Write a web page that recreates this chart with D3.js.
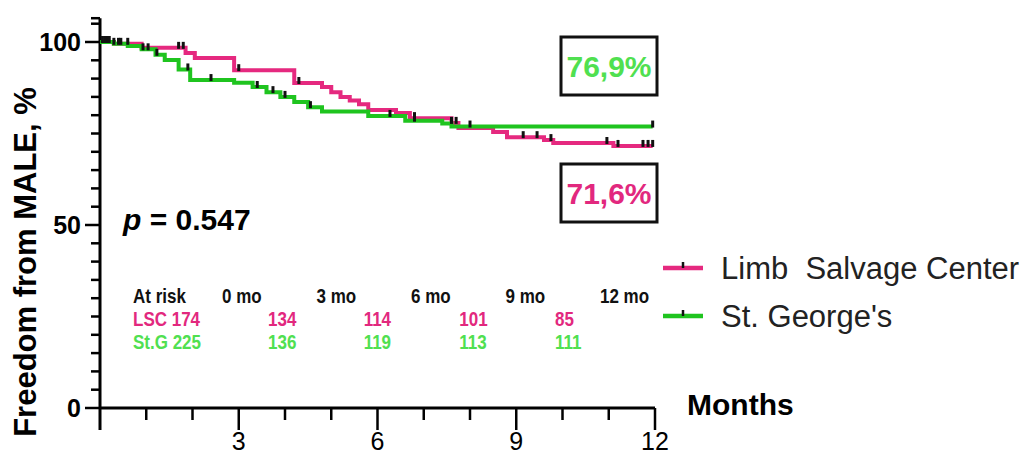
<!DOCTYPE html>
<html>
<head>
<meta charset="utf-8">
<script src="https://cdn.jsdelivr.net/npm/d3@7"></script>
<style>
  body { margin: 0; background: #fff; }
  svg { display: block; }
  text { font-family: "Liberation Sans", Arial, sans-serif; }
</style>
</head>
<body>
<div id="chart"></div>
<script>
// Kaplan-Meier steps (months, % free from MALE)
var lscTimes = [0, 0.3, 0.9, 1.85, 2.05, 2.9, 4.2, 4.8, 5.0, 5.2, 5.4, 5.6, 5.8, 6.4, 6.7, 7.6, 7.75, 8.5, 8.8, 9.6, 9.8, 11.1, 11.95];
var lscSurv  = [100, 99.5, 98.4, 97.0, 95.6, 92.3, 88.8, 87.7, 86.3, 85.0, 84.0, 83.0, 81.4, 80.6, 79.2, 77.9, 76.5, 75.4, 74.0, 73.2, 72.4, 71.6, 71.6];
var lscCensor = [0.05, 0.15, 0.3, 0.45, 0.6, 1.7, 1.8, 3.0, 4.3, 6.8, 7.6, 7.7, 9.15, 9.45, 9.75, 10.96, 11.2, 11.74, 11.85, 11.95];

var stgTimes = [0, 0.3, 0.6, 0.9, 1.2, 1.4, 1.7, 1.95, 2.9, 3.3, 3.6, 3.9, 4.2, 4.5, 4.8, 5.8, 6.6, 7.4, 7.6, 11.95];
var stgSurv  = [100, 99.5, 98.9, 98.0, 96.5, 95.1, 92.5, 89.6, 88.9, 87.7, 86.3, 85.0, 83.6, 82.2, 81.0, 79.8, 78.5, 77.7, 76.9, 76.9];
var stgCensor = [0.1, 0.2, 0.4, 0.93, 1.04, 1.23, 1.9, 2.4, 3.4, 3.74, 4.0, 4.55, 6.27, 6.8, 8.0, 11.95];

var seriesNames = ["Limb  Salvage Center", "St. George's"];
var endLabels = ["71,6%", "76,9%"];
var xTicks = [3, 6, 9, 12];
var yTicks = [0, 50, 100];
var riskHeader = ["0 mo", "3 mo", "6 mo", "9 mo", "12 mo"];
var riskLSC = [134, 114, 101, 85];
var riskStG = [136, 119, 113, 111];
var riskRowNames = ["LSC 174", "St.G 225"];

var pink = "#e5297f", green = "#1fc41f";
var pinkText = "#e2287e", greenText = "#50e050";

var svg = d3.select("#chart").append("svg")
    .attr("width", 1024).attr("height", 455);

var x = d3.scaleLinear().domain([0, 12]).range([100, 655]);
var y = d3.scaleLinear().domain([0, 100]).range([408, 42]);

// y axis
var yAxis = svg.append("g").attr("transform", "translate(" + x(0) + ",0)");
yAxis.append("line").attr("y1", y(0) + 22).attr("y2", y(106.5))
    .attr("stroke", "#000").attr("stroke-width", 3);
yAxis.selectAll(".minor").data(d3.range(0, 106, 5).concat([106.5])).enter().append("line")
    .attr("x1", function(d) { return yTicks.indexOf(d) >= 0 ? -15 : -9; }).attr("x2", 0)
    .attr("y1", function(d) { return y(d); }).attr("y2", function(d) { return y(d); })
    .attr("stroke", "#000").attr("stroke-width", 2.5);
yAxis.selectAll(".lab").data(yTicks).enter().append("text")
    .attr("x", -19).attr("y", function(d) { return y(d); }).attr("dy", "0.35em")
    .attr("text-anchor", "end").attr("font-size", 25).attr("font-weight", "bold")
    .text(function(d) { return d; });

// x axis
var xAxis = svg.append("g").attr("transform", "translate(0," + y(0) + ")");
xAxis.append("line").attr("x1", x(0)).attr("x2", x(12))
    .attr("stroke", "#000").attr("stroke-width", 3);
xAxis.selectAll(".t").data(d3.range(1, 13)).enter().append("line")
    .attr("x1", function(d) { return x(d); }).attr("x2", function(d) { return x(d); })
    .attr("y1", 0).attr("y2", function(d) { return d % 3 === 0 ? 22 : 12; })
    .attr("stroke", "#000").attr("stroke-width", 2.5);
xAxis.selectAll(".lab").data(xTicks).enter().append("text")
    .attr("x", function(d) { return x(d); }).attr("y", 42)
    .attr("text-anchor", "middle").attr("font-size", 25)
    .text(function(d) { return d; });

svg.append("text").attr("transform", "translate(36,262) rotate(-90)")
    .attr("text-anchor", "middle").attr("font-size", 31).attr("font-weight", "bold")
    .text("Freedom from MALE, %");

svg.append("text").attr("x", 687).attr("y", 415)
    .attr("font-size", 30).attr("font-weight", "bold").text("Months");

// KM curves
function stepAt(times, surv, t) {
  var i = d3.bisectRight(times, t) - 1;
  return surv[Math.max(0, i)];
}
var line = d3.line().curve(d3.curveStepAfter)
    .x(function(d) { return x(d[0]); }).y(function(d) { return y(d[1]); });

var curves = [
  { times: lscTimes, surv: lscSurv, cens: lscCensor, color: pink },
  { times: stgTimes, surv: stgSurv, cens: stgCensor, color: green }
];
curves.forEach(function(c) {
  svg.append("path").datum(d3.zip(c.times, c.surv))
      .attr("fill", "none").attr("stroke", c.color).attr("stroke-width", 4)
      .attr("d", line);
});
curves.forEach(function(c) {
  svg.selectAll(null).data(c.cens).enter().append("line")
      .attr("x1", function(d) { return x(d); }).attr("x2", function(d) { return x(d); })
      .attr("y1", function(d) { return y(stepAt(c.times, c.surv, d)) - 6; })
      .attr("y2", function(d) { return y(stepAt(c.times, c.surv, d)) + 1; })
      .attr("stroke", "#111").attr("stroke-width", 3);
});

// end boxes
var boxes = [
  { label: endLabels[1], color: greenText, top: 37 },
  { label: endLabels[0], color: pinkText, top: 164 }
];
boxes.forEach(function(b) {
  svg.append("rect").attr("x", 561).attr("y", b.top).attr("width", 96).attr("height", 58)
      .attr("fill", "#fff").attr("stroke", "#111").attr("stroke-width", 3);
  svg.append("text").attr("x", 609).attr("y", b.top + 29).attr("dy", "0.36em")
      .attr("text-anchor", "middle").attr("font-size", 30).attr("font-weight", "bold")
      .attr("fill", b.color).text(b.label);
});

// p value
var p = svg.append("text").attr("x", 123).attr("y", 230).attr("font-size", 30).attr("font-weight", "bold");
p.append("tspan").attr("font-style", "italic").text("p");
p.append("tspan").text(" = 0.547");

// legend
var leg = svg.append("g");
[pink, green].forEach(function(col, i) {
  var ly = 268 + i * 48;
  leg.append("line").attr("x1", 663).attr("x2", 703).attr("y1", ly).attr("y2", ly)
      .attr("stroke", col).attr("stroke-width", 4.5);
  leg.append("line").attr("x1", 683).attr("x2", 683).attr("y1", ly - 6).attr("y2", ly)
      .attr("stroke", "#111").attr("stroke-width", 2.5);
  leg.append("text").attr("x", 721).attr("y", ly).attr("dy", "0.36em")
      .attr("font-size", 31).attr("fill", "#222").style("white-space", "pre")
      .text(seriesNames[i]);
});

// at-risk table (condensed bold text)
var hx = d3.scaleLinear().domain([0, 4]).range([222, 600]);
var nx = d3.scaleLinear().domain([0, 3]).range([268, 555]);
var tbl = svg.append("g").attr("font-weight", "bold").attr("font-size", 20);
function cell(tx, ty, str, col) {
  tbl.append("text").attr("transform", "translate(" + tx + "," + ty + ") scale(0.85,1)")
      .attr("fill", col).text(str);
}
cell(133, 303, "At risk", "#111");
riskHeader.forEach(function(h, i) { cell(hx(i), 303, h, "#111"); });
[[riskLSC, pinkText, 326], [riskStG, greenText, 349]].forEach(function(r, k) {
  cell(133, r[2], riskRowNames[k], r[1]);
  r[0].forEach(function(v, i) { cell(nx(i), r[2], v, r[1]); });
});
</script>
</body>
</html>
